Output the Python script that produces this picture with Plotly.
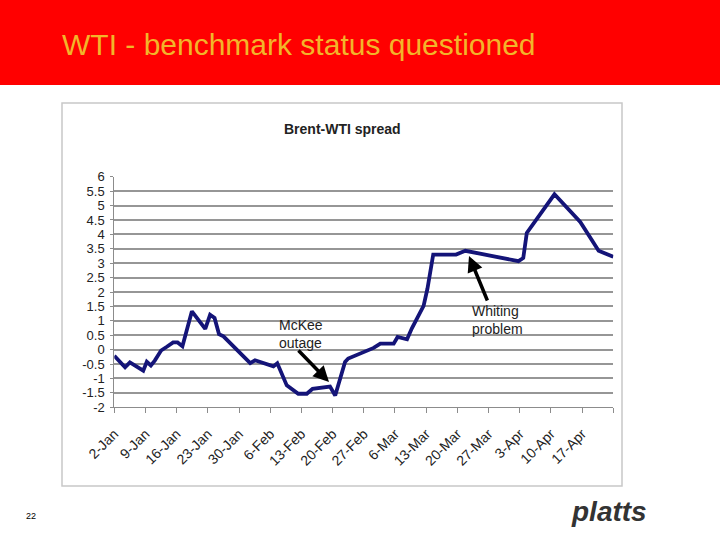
import plotly.graph_objects as go

# ---- data ----
dates = [
    "2007-01-02 00:00", "2007-01-04 10:00", "2007-01-05 12:00", "2007-01-08 12:00",
    "2007-01-09 07:00", "2007-01-10 05:00", "2007-01-11 02:00", "2007-01-12 12:00",
    "2007-01-13 19:00", "2007-01-15 05:00", "2007-01-16 05:00", "2007-01-17 07:00",
    "2007-01-19 10:00", "2007-01-22 10:00", "2007-01-23 12:00", "2007-01-24 12:00",
    "2007-01-25 12:00", "2007-01-26 12:00", "2007-02-01 12:00", "2007-02-02 14:00",
    "2007-02-06 17:00", "2007-02-07 14:00", "2007-02-09 17:00", "2007-02-12 07:00",
    "2007-02-14 05:00", "2007-02-15 12:00", "2007-02-19 10:00", "2007-02-20 14:00",
    "2007-02-22 19:00", "2007-02-23 12:00", "2007-03-01 05:00", "2007-03-02 17:00",
    "2007-03-05 17:00", "2007-03-06 14:00", "2007-03-08 17:00", "2007-03-09 19:00",
    "2007-03-12 10:00", "2007-03-13 07:00", "2007-03-14 14:00", "2007-03-19 17:00",
    "2007-03-21 19:00", "2007-04-02 17:00", "2007-04-03 19:00", "2007-04-04 14:00",
    "2007-04-10 19:00", "2007-04-16 14:00", "2007-04-20 17:00", "2007-04-24 00:00",
]
spread = [
    -0.21, -0.61, -0.44, -0.73,
    -0.42, -0.55, -0.38, -0.03,
    0.10, 0.25, 0.25, 0.12,
    1.33, 0.72, 1.21, 1.10,
    0.54, 0.46, -0.47, -0.37,
    -0.58, -0.47, -1.24, -1.53,
    -1.53, -1.36, -1.28, -1.59,
    -0.43, -0.31, 0.06, 0.21,
    0.21, 0.44, 0.36, 0.74,
    1.52, 2.12, 3.30, 3.30,
    3.43, 3.07, 3.18, 4.05,
    5.39, 4.43, 3.43, 3.22,
]
tick_dates = [
    "2007-01-02", "2007-01-09", "2007-01-16", "2007-01-23", "2007-01-30",
    "2007-02-06", "2007-02-13", "2007-02-20", "2007-02-27", "2007-03-06",
    "2007-03-13", "2007-03-20", "2007-03-27", "2007-04-03", "2007-04-10",
    "2007-04-17", "2007-04-24",
]
tick_labels = [
    "2-Jan", "9-Jan", "16-Jan", "23-Jan", "30-Jan", "6-Feb", "13-Feb", "20-Feb",
    "27-Feb", "6-Mar", "13-Mar", "20-Mar", "27-Mar", "3-Apr", "10-Apr", "17-Apr", "",
]
y_ticks = [-2, -1.5, -1, -0.5, 0, 0.5, 1, 1.5, 2, 2.5, 3, 3.5, 4, 4.5, 5, 5.5, 6]
y_labels = [("%g" % v) for v in y_ticks]

W, H = 720, 540
px = lambda x: x / W
py = lambda y: 1 - y / H

FONT = "Liberation Sans, Arial, sans-serif"

fig = go.Figure()
fig.add_trace(go.Scatter(
    x=dates, y=spread, mode="lines",
    line=dict(color="#141478", width=3.8),
    hoverinfo="skip", showlegend=False,
))

fig.update_layout(
    width=W, height=H, autosize=False,
    margin=dict(l=0, r=0, t=0, b=0, pad=0, autoexpand=False),
    showlegend=False,
    paper_bgcolor="white",
    plot_bgcolor="#C0C0C0",
    font=dict(family=FONT, color="#222222"),
    xaxis=dict(
        domain=[px(114.3), px(613.3)],
        type="date", automargin=False,
        range=["2007-01-02", "2007-04-24"],
        tickmode="array", tickvals=tick_dates, ticktext=tick_labels,
        tickangle=-45, tickfont=dict(size=14, color="#222222"),
        ticklabelstandoff=7,
        ticks="outside", ticklen=5, tickcolor="#8c8c8c",
        showgrid=False, showline=True, linecolor="#8c8c8c", linewidth=1,
        zeroline=False,
    ),
    yaxis=dict(
        domain=[py(407.3), py(176.7)],
        range=[-2, 6], automargin=False,
        tickmode="array", tickvals=y_ticks, ticktext=y_labels,
        tickfont=dict(size=13, color="#222222"),
        ticklabelstandoff=3,
        ticks="outside", ticklen=3, tickcolor="#8c8c8c",
        showgrid=True, gridcolor="#969696", gridwidth=1.5,
        showline=True, linecolor="#8c8c8c", linewidth=1,
        zeroline=False,
    ),
)

# red banner and chart frame
fig.add_shape(type="rect", xref="paper", yref="paper", x0=0, x1=1, y0=py(85), y1=1,
              fillcolor="#FF0000", line_width=0, layer="below")
fig.add_shape(type="rect", xref="paper", yref="paper", x0=px(62), x1=px(622), y0=py(486), y1=py(103),
              fillcolor="white", line=dict(color="#C8C8C8", width=1.5), layer="below")

# texts
fig.add_annotation(text="WTI - benchmark status questioned", xref="paper", yref="paper",
                   x=px(60), y=py(44), xanchor="left", yanchor="middle", showarrow=False,
                   font=dict(size=30, color="#F2B52A", family=FONT))
fig.add_annotation(text="<b>Brent-WTI spread</b>", xref="paper", yref="paper",
                   x=px(342), y=py(129), xanchor="center", yanchor="middle", showarrow=False,
                   font=dict(size=14, color="#222222", family=FONT))
fig.add_annotation(text="McKee<br>outage", xref="paper", yref="paper",
                   x=px(277), y=py(334), xanchor="left", yanchor="middle", align="left",
                   showarrow=False, font=dict(size=14, color="#222222", family=FONT))
fig.add_annotation(text="Whiting<br>problem", xref="paper", yref="paper",
                   x=px(470), y=py(320), xanchor="left", yanchor="middle", align="left",
                   showarrow=False, font=dict(size=14, color="#222222", family=FONT))
# arrows
fig.add_annotation(text="", xref="paper", yref="paper", x=px(329), y=py(382),
                   ax=-32, ay=-33, showarrow=True, arrowhead=2, arrowsize=0.9,
                   arrowwidth=3.5, arrowcolor="#000000")
fig.add_annotation(text="", xref="paper", yref="paper", x=px(469), y=py(256),
                   ax=19, ay=46, showarrow=True, arrowhead=2, arrowsize=0.9,
                   arrowwidth=3.5, arrowcolor="#000000")
# footer
fig.add_annotation(text="22", xref="paper", yref="paper", x=px(31), y=py(516),
                   xanchor="center", yanchor="middle", showarrow=False,
                   font=dict(size=9, color="#000000", family=FONT))
fig.add_annotation(text="<b><i>platts</i></b>", xref="paper", yref="paper", x=px(609), y=py(511),
                   xanchor="center", yanchor="middle", showarrow=False,
                   font=dict(size=28, color="#333333",
                             family="Liberation Sans Narrow, Arial Narrow, Liberation Sans, sans-serif"))

fig.write_html("out.html", config={"displayModeBar": False},
               post_script="document.body.style.margin='0px';document.body.style.overflow='hidden';")
